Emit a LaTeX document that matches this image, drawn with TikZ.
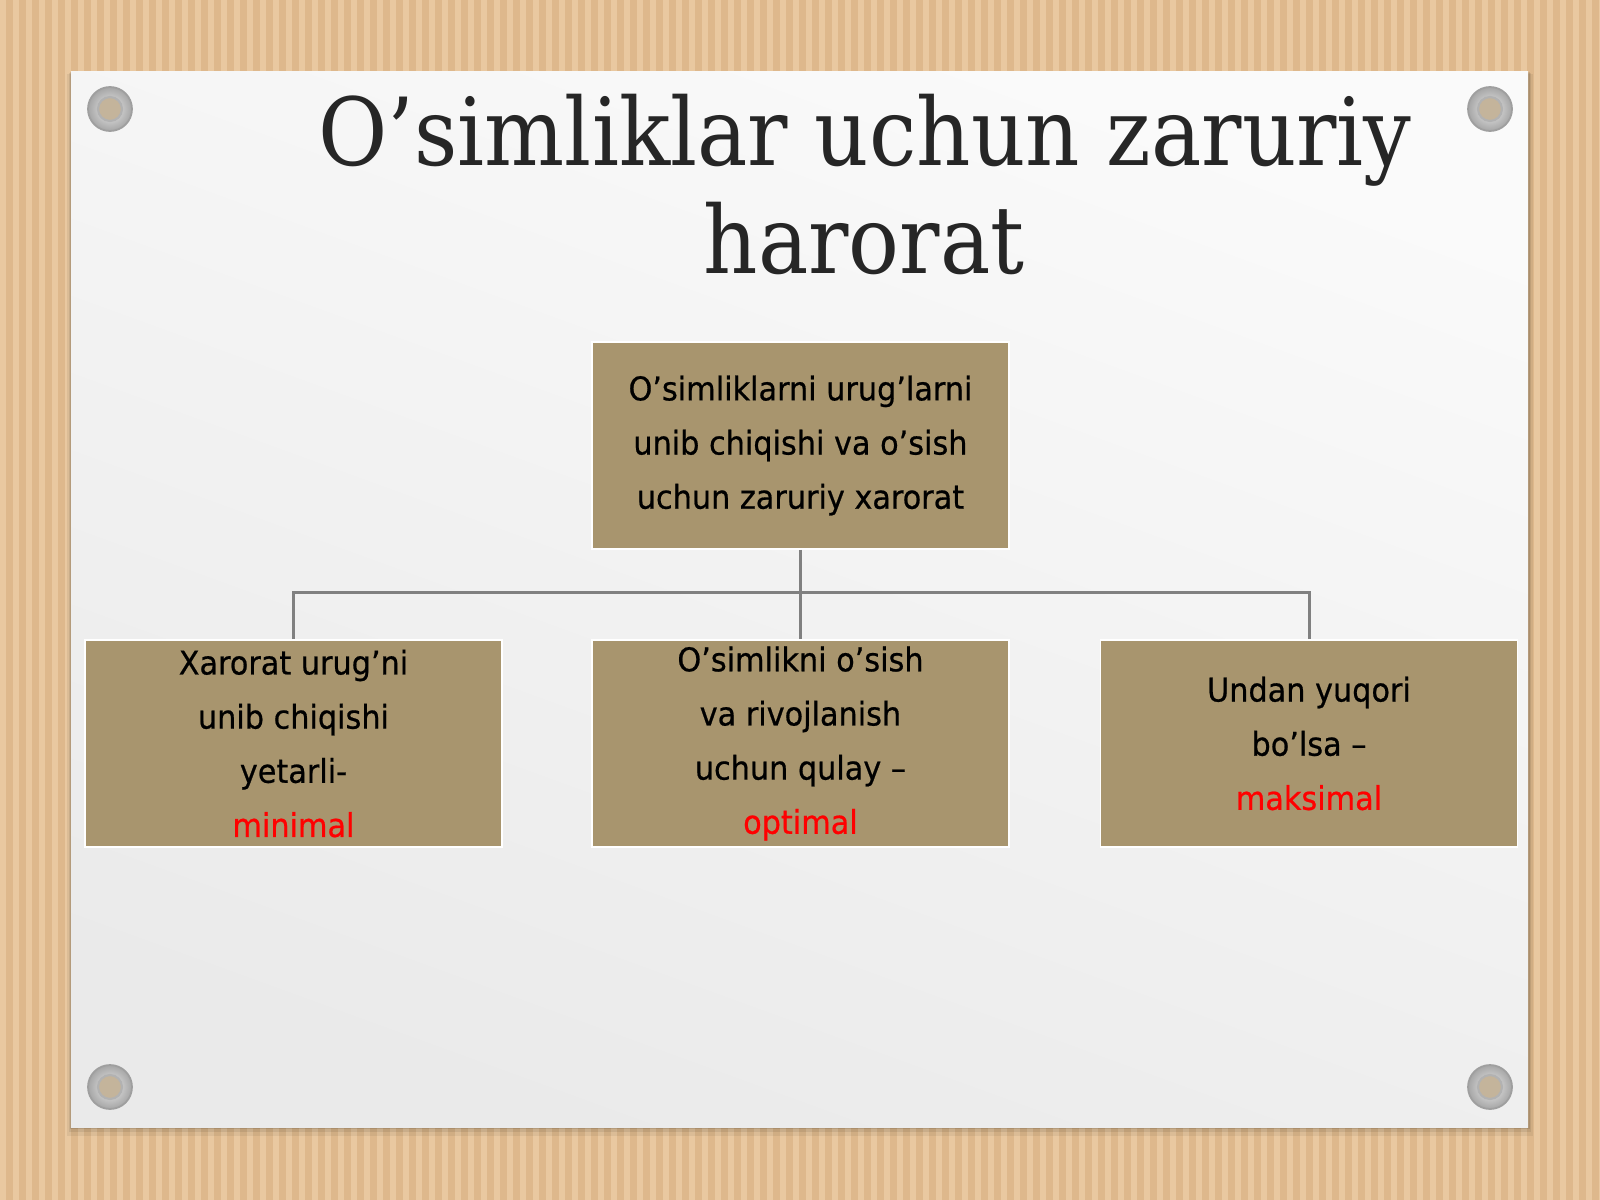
\documentclass[tikz,border=0pt]{standalone}
\usepackage{fontspec}
\setmainfont{DejaVu Serif}
\newfontfamily\titlefont[FakeStretch=0.9]{DejaVu Serif}
\newfontfamily\boxfont[FakeStretch=1.03,FakeBold=0.6]{DejaVu Sans Condensed}
\definecolor{wood}{RGB}{222,184,140}
\definecolor{woodlight}{RGB}{233,200,160}
\definecolor{boxtan}{RGB}{168,149,110}
\definecolor{connc}{RGB}{128,128,128}
\definecolor{mred}{RGB}{255,0,0}
\definecolor{titlec}{RGB}{38,38,38}
\definecolor{slidetop}{RGB}{250,250,250}
\definecolor{slidebot}{RGB}{234,234,234}
\definecolor{screwin}{RGB}{196,180,155}
\begin{document}
\begin{tikzpicture}[x=0.01cm,y=-0.01cm,
  tanbox/.style={fill=boxtan, draw=white, line width=0.45pt, minimum width=4.17cm, minimum height=2.07cm, inner sep=0pt, align=center, font=\boxfont\fontsize{9.3}{15.4}\selectfont, text=black},
  conn/.style={draw=connc, line width=0.85pt},
  titletext/.style={anchor=base, inner sep=0pt, text=titlec, font=\titlefont\fontsize{26.7}{30}\selectfont}]
\useasboundingbox (0,0) rectangle (1600,1200);
% wooden background
\fill[wood] (0,0) rectangle (1600,1200);
\foreach \i in {0,...,123} { \fill[woodlight] (\i*13,0) rectangle ++(6,1200); }
% slide shadow
\fill[black,opacity=0.06] (67,74) rectangle (1533,1136);
\fill[black,opacity=0.08] (69,73) rectangle (1531,1132);
\fill[black,opacity=0.10] (70,72) rectangle (1530,1129);
% slide
\shade[shading=axis, top color=slidetop, bottom color=slidebot, shading angle=-20] (71,71) rectangle (1528,1127);
% screws
\foreach \p in {(110,109),(1490,109),(110,1087),(1490,1087)} {
  \shade[inner color=gray!15, outer color=gray!70] \p circle (22);
  \draw[gray!75, line width=0.5pt] \p circle (22);
  \fill[screwin] \p circle (12);
  \draw[gray!60, line width=0.6pt] \p circle (12);
}
% title
\node[titletext] (t1) at (865,165) {O’simliklar uchun zaruriy};
\node[titletext] (t2) at (864,273) {harorat};
% boxes
\node[tanbox] (top) at (800.5,445.5) {O’simliklarni urug’larni\\ unib chiqishi va o’sish\\ uchun zaruriy xarorat};
\node[tanbox] (bl) at (293.5,743.5) {Xarorat urug’ni\\ unib chiqishi\\ yetarli-\\ \textcolor{mred}{minimal}};
\node[tanbox] (bm) at (800.5,743.5) {O’simlikni o’sish\\ va rivojlanish\\ uchun qulay –\\ \textcolor{mred}{optimal}};
\node[tanbox] (br) at (1309,743.5) {Undan yuqori\\ bo’lsa –\\ \textcolor{mred}{maksimal}};
% connectors
\coordinate (bus) at (800.5,592);
\draw[conn] (top.south) -- (bus);
\draw[conn] (bm.north) -- (bus);
\draw[conn] (bl.north) |- (bus);
\draw[conn] (br.north) |- (bus);
\end{tikzpicture}
\end{document}
